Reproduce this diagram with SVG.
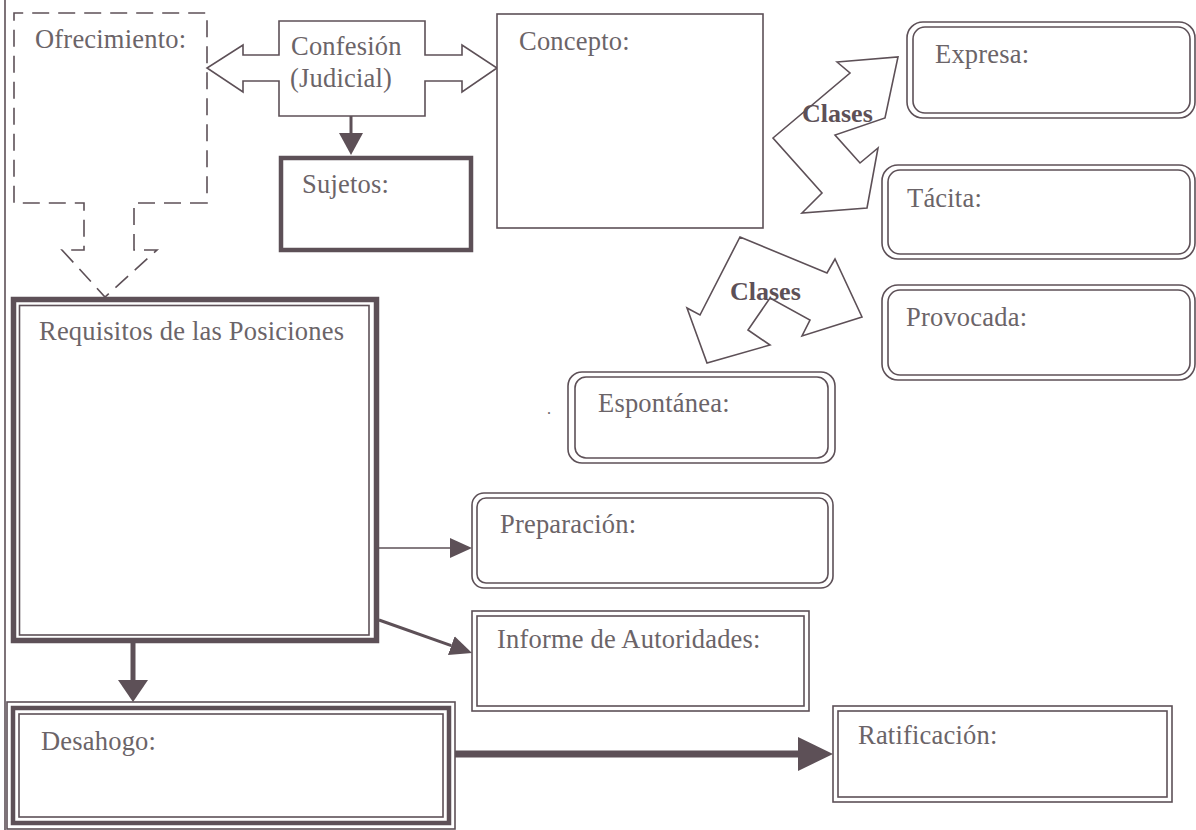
<svg xmlns="http://www.w3.org/2000/svg" width="1196" height="830" viewBox="0 0 1196 830">
<style>
  .ln{fill:none;stroke:#5d5057;stroke-width:1.6}
  .bx{fill:#fff;stroke:#5d5057;stroke-width:1.6}
  .bxk{fill:#fff;stroke:#5d5057;stroke-width:4.5}
  .bxk5{fill:#fff;stroke:#5d5057;stroke-width:5.5}
  .dash{fill:none;stroke:#5d5057;stroke-width:1.6;stroke-dasharray:17 9}
  .thick{fill:none;stroke:#5d5057;stroke-width:4.5}
  .t{font-family:"Liberation Serif","Times New Roman",serif;font-size:26.5px;fill:#6b6468;letter-spacing:0.2px}
  .tb{font-family:"Liberation Serif","Times New Roman",serif;font-size:26px;font-weight:bold;fill:#5d5057}
  .c{stroke:#5d5057;fill:none}
</style>
<defs>
  <marker id="hA" markerUnits="userSpaceOnUse" markerWidth="24" markerHeight="24" refX="0" refY="12" orient="auto" viewBox="0 0 24 24"><path d="M0,2 L22,12 L0,22 Z" fill="#5d5057"/></marker>
  <marker id="hB" markerUnits="userSpaceOnUse" markerWidth="24" markerHeight="26" refX="0" refY="13" orient="auto" viewBox="0 0 24 26"><path d="M0,1 L22,13 L0,25 Z" fill="#5d5057"/></marker>
  <marker id="hC" markerUnits="userSpaceOnUse" markerWidth="24" markerHeight="32" refX="0" refY="16" orient="auto" viewBox="0 0 24 32"><path d="M0,1 L22,16 L0,31 Z" fill="#5d5057"/></marker>
  <marker id="hD" markerUnits="userSpaceOnUse" markerWidth="36" markerHeight="36" refX="0" refY="18" orient="auto" viewBox="0 0 36 36"><path d="M0,1 L35,18 L0,35 Z" fill="#5d5057"/></marker>
</defs>
<rect width="1196" height="830" fill="#fff"/>
<line class="ln" x1="5" y1="0" x2="5" y2="830"/>

<g id="connectors">
  <line class="c" stroke-width="3" x1="351" y1="116" x2="351" y2="133" marker-end="url(#hB)"/>
  <line class="c" stroke-width="1.6" x1="379" y1="548" x2="450" y2="548" marker-end="url(#hA)"/>
  <line class="c" stroke-width="3" x1="379" y1="620" x2="451.3" y2="645.6" marker-end="url(#hA)"/>
  <line class="c" stroke-width="5" x1="133" y1="643" x2="133" y2="680" marker-end="url(#hC)"/>
  <line class="c" stroke-width="7" x1="455" y1="754" x2="798" y2="754" marker-end="url(#hD)"/>
  <g id="clases-upper">
    <polygon class="bx" points="837,62 898,57 885,118 835,135 860,163 878,148 867,208 802,213 822,193 773,138 850,73"/>
    <text class="tb" x="802" y="122">Clases</text>
  </g>
  <g id="clases-lower">
    <polygon class="bx" points="740,237 827,273 835,259 862,317 802,336 810,320 770,298 748,330 770,345 707,363 687,308 700,315"/>
    <text class="tb" x="730" y="300">Clases</text>
  </g>
</g>

<g id="ofrecimiento">
  <path class="dash" d="M207,203 L134,203 L134,250 L157,250 L105,297 L62,250 L84,250 L84,203 L14,203 L14,13 L207,13 Z"/>
  <text class="t" x="35" y="48">Ofrecimiento:</text>
</g>

<g id="confesion">
  <polygon class="bx" points="279,21 425,21 425,55 462,55 462,45 497,68 462,92 462,81 425,81 425,116 279,116 279,81 243,81 243,92 207,68 243,45 243,55 279,55"/>
  <text class="t" x="291" y="55">Confesión</text>
  <text class="t" x="290" y="87">(Judicial)</text>
</g>

<g id="sujetos">
  <rect class="bxk" x="281" y="158" width="190" height="92"/>
  <text class="t" x="302" y="193">Sujetos:</text>
</g>

<g id="concepto">
  <rect class="bx" x="497" y="14" width="266" height="214"/>
  <text class="t" x="519" y="50">Concepto:</text>
</g>

<g id="expresa">
  <rect class="bx" x="907" y="22" width="288" height="96" rx="16"/>
  <rect class="ln" x="913" y="27" width="277" height="86" rx="12"/>
  <text class="t" x="935" y="63">Expresa:</text>
</g>

<g id="tacita">
  <rect class="bx" x="882" y="165" width="313" height="94" rx="16"/>
  <rect class="ln" x="888" y="170" width="302" height="84" rx="12"/>
  <text class="t" x="907" y="207">Tácita:</text>
</g>

<g id="provocada">
  <rect class="bx" x="882" y="285" width="313" height="95" rx="16"/>
  <rect class="ln" x="888" y="290" width="302" height="85" rx="12"/>
  <text class="t" x="906" y="326">Provocada:</text>
</g>

<g id="espontanea">
  <rect class="bx" x="568" y="372" width="267" height="91" rx="14"/>
  <rect class="ln" x="575" y="377" width="253" height="81" rx="11"/>
  <text class="t" x="598" y="412">Espontánea:</text>
  <text class="t" x="547" y="414" style="font-size:16px">.</text>
</g>

<g id="requisitos">
  <rect class="bxk5" x="13.5" y="299.5" width="363" height="341"/>
  <rect class="ln" x="19.5" y="305.5" width="349.5" height="329.5"/>
  <text class="t" x="39" y="340">Requisitos de las Posiciones</text>
</g>

<g id="preparacion">
  <rect class="bx" x="472" y="493" width="361" height="95" rx="12"/>
  <rect class="ln" x="477" y="498" width="351" height="85" rx="9"/>
  <text class="t" x="500" y="533">Preparación:</text>
</g>

<g id="informe">
  <rect class="bx" x="472" y="611" width="337" height="100"/>
  <rect class="ln" x="477" y="616" width="327" height="90"/>
  <text class="t" x="497" y="648">Informe de Autoridades:</text>
</g>

<g id="desahogo">
  <rect class="bx" x="7" y="702" width="448" height="127"/>
  <rect class="thick" x="13" y="708" width="436" height="115"/>
  <rect class="ln" x="19" y="714" width="424" height="103"/>
  <text class="t" x="41" y="750">Desahogo:</text>
</g>

<g id="ratificacion">
  <rect class="bx" x="833" y="706" width="339" height="96"/>
  <rect class="ln" x="838" y="711" width="329" height="86"/>
  <text class="t" x="858" y="744">Ratificación:</text>
</g>
</svg>
